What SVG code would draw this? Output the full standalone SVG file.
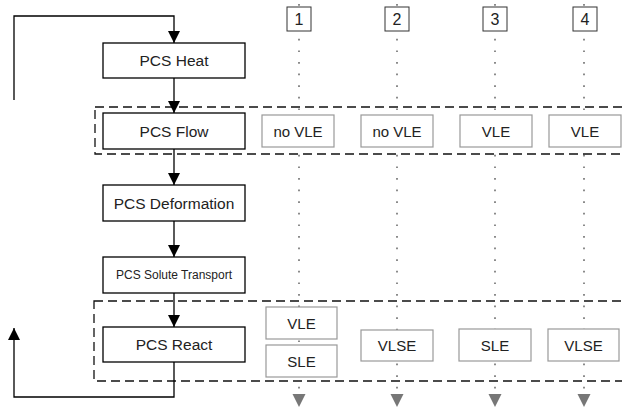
<svg xmlns="http://www.w3.org/2000/svg" width="622" height="408" viewBox="0 0 622 408">
<defs>
<marker id="ah" markerUnits="userSpaceOnUse" markerWidth="12" markerHeight="12" viewBox="0 0 12 12" refX="12" refY="6" orient="auto">
<path d="M0,0 L12,6 L0,12 Z" fill="#000"/>
</marker>
<style>
.box{fill:#fff;stroke:#000;stroke-width:1.3}
.gbox{fill:#fff;stroke:#999;stroke-width:1.2}
.nbox{fill:#fff;stroke:#333;stroke-width:1}
.t{font-family:"Liberation Sans",Arial,sans-serif;font-size:15.5px;fill:#222;text-anchor:middle}
.ts{font-family:"Liberation Sans",Arial,sans-serif;font-size:12px;fill:#222;text-anchor:middle}
.tg{font-family:"Liberation Sans",Arial,sans-serif;font-size:15px;fill:#222;text-anchor:middle}
.tn{font-family:"Liberation Sans",Arial,sans-serif;font-size:16px;fill:#222;text-anchor:middle}
.dot{stroke:#777;stroke-width:1.7;stroke-dasharray:1.7 9.9;fill:none}
.dash{fill:none;stroke:#111;stroke-width:1.3;stroke-dasharray:9 5}
.conn{fill:none;stroke:#000;stroke-width:1.3}
.tri{fill:#777}
</style>
</defs>
<rect width="622" height="408" fill="#fff"/>

<g id="lanes">
<line class="dot" x1="299" y1="4" x2="299" y2="392"/>
<line class="dot" x1="397" y1="4" x2="397" y2="392"/>
<line class="dot" x1="495" y1="4" x2="495" y2="392"/>
<line class="dot" x1="584" y1="4" x2="584" y2="392"/>
<path class="tri" d="M292.5,394 L305.5,394 L299,407 Z"/>
<path class="tri" d="M390.5,394 L403.5,394 L397,407 Z"/>
<path class="tri" d="M488.5,394 L501.5,394 L495,407 Z"/>
<path class="tri" d="M577.5,394 L590.5,394 L584,407 Z"/>
</g>

<g id="groups">
<rect class="dash" x="95" y="107" width="540" height="47"/>
<rect class="dash" x="94" y="301" width="540" height="80"/>
</g>

<g id="connectors">
<polyline class="conn" points="14,100 14,16 174,16 174,43" marker-end="url(#ah)"/>
<line class="conn" x1="174" y1="78" x2="174" y2="113" marker-end="url(#ah)"/>
<line class="conn" x1="174" y1="149" x2="174" y2="185" marker-end="url(#ah)"/>
<line class="conn" x1="174" y1="221" x2="174" y2="257" marker-end="url(#ah)"/>
<line class="conn" x1="174" y1="293" x2="174" y2="327" marker-end="url(#ah)"/>
<polyline class="conn" points="174,362 174,397 14,397 14,328" marker-end="url(#ah)"/>
</g>

<g id="heat"><rect class="box" x="103" y="43" width="142" height="35"/><text class="t" x="174" y="66">PCS Heat</text></g>
<g id="flow"><rect class="box" x="103" y="113" width="142" height="36"/><text class="t" x="174" y="136.5">PCS Flow</text></g>
<g id="deformation"><rect class="box" x="103" y="185" width="142" height="36"/><text class="t" x="174" y="208.5">PCS Deformation</text></g>
<g id="solute"><rect class="box" x="103" y="257" width="142" height="36"/><text class="ts" x="174" y="279">PCS Solute Transport</text></g>
<g id="react"><rect class="box" x="103" y="327" width="142" height="35"/><text class="t" x="174" y="350">PCS React</text></g>

<g id="n1"><rect class="nbox" x="287" y="7" width="24" height="24"/><text class="tn" x="299" y="25">1</text></g>
<g id="n2"><rect class="nbox" x="385" y="7" width="24" height="24"/><text class="tn" x="397" y="25">2</text></g>
<g id="n3"><rect class="nbox" x="483" y="7" width="24" height="24"/><text class="tn" x="495" y="25">3</text></g>
<g id="n4"><rect class="nbox" x="573" y="7" width="24" height="24"/><text class="tn" x="585" y="25">4</text></g>

<g id="f1"><rect class="gbox" x="262" y="115" width="72" height="32"/><text class="tg" x="298" y="136.5">no VLE</text></g>
<g id="f2"><rect class="gbox" x="361" y="115" width="72" height="32"/><text class="tg" x="397" y="136.5">no VLE</text></g>
<g id="f3"><rect class="gbox" x="460" y="115" width="72" height="32"/><text class="tg" x="496" y="136.5">VLE</text></g>
<g id="f4"><rect class="gbox" x="549" y="115" width="72" height="32"/><text class="tg" x="585" y="136.5">VLE</text></g>

<g id="r1a"><rect class="gbox" x="266" y="307" width="71" height="32"/><text class="tg" x="301.5" y="328.5">VLE</text></g>
<g id="r1b"><rect class="gbox" x="266" y="345" width="71" height="32"/><text class="tg" x="301.5" y="366.5">SLE</text></g>
<g id="r2"><rect class="gbox" x="361" y="330" width="72" height="31"/><text class="tg" x="397" y="351">VLSE</text></g>
<g id="r3"><rect class="gbox" x="459" y="329" width="72" height="32"/><text class="tg" x="495" y="350.5">SLE</text></g>
<g id="r4"><rect class="gbox" x="548" y="329" width="71" height="32"/><text class="tg" x="583.5" y="350.5">VLSE</text></g>
</svg>
